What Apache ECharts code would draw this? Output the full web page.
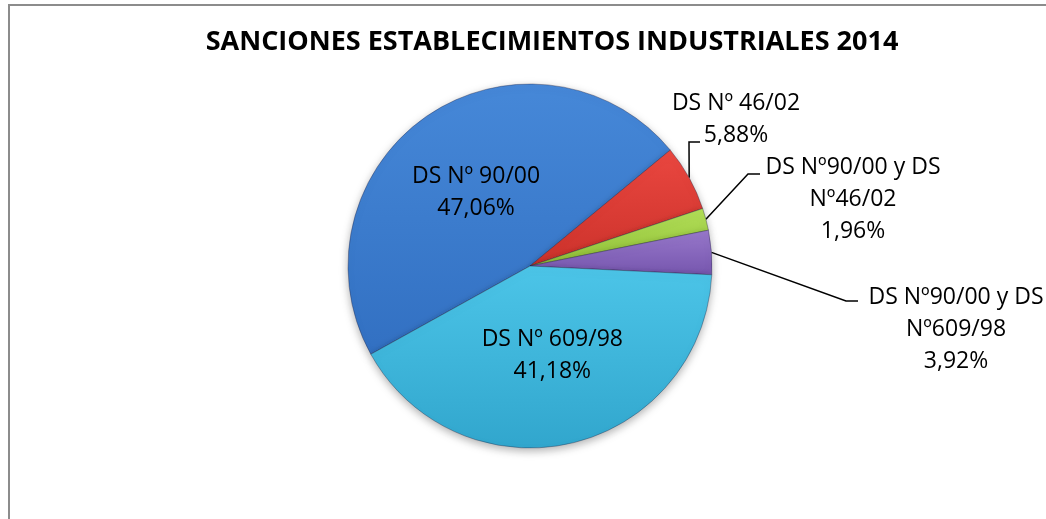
<!DOCTYPE html>
<html>
<head>
<meta charset="utf-8">
<script src="https://cdn.jsdelivr.net/npm/echarts@6/dist/echarts.min.js"></script>
<style>
  html, body { margin: 0; padding: 0; background: #fff; }
  #chart { width: 1046px; height: 519px; }
</style>
</head>
<body>
<div id="chart"></div>
<script>
var chartTitle = 'SANCIONES ESTABLECIMIENTOS INDUSTRIALES 2014';
var categories = ['DS Nº 90/00', 'DS Nº 46/02', 'DS Nº90/00 y DS\nNº46/02', 'DS Nº90/00 y DS\nNº609/98', 'DS Nº 609/98'];
var percentLabels = ['47,06%', '5,88%', '1,96%', '3,92%', '41,18%'];
var counts = [24, 3, 1, 2, 21];

// light / dark stops for each slice
var sliceColors = [
    ['#4688d8', '#3270c2'],
    ['#ea4740', '#cc322b'],
    ['#b2de58', '#92c238'],
    ['#9878cb', '#7656ae'],
    ['#4cc5e8', '#31a6cd']
];

// where the outside labels go, and the elbow of the leader line
var outsideLabels = {
    1: { x: 736, y: 87, elbow: [689, 142], end: [700, 142] },
    2: { x: 853, y: 151, elbow: [748, 174], end: [760, 174] },
    3: { x: 956, y: 281, elbow: [846, 301], end: [858, 301] }
};
var insideShift = { 0: [-1, 4], 4: [1, -2] };

var myChart = echarts.init(document.getElementById('chart'));

var seriesData = counts.map(function (v, i) {
    var inside = !outsideLabels[i];
    return {
        name: categories[i],
        value: v,
        itemStyle: {
            color: new echarts.graphic.LinearGradient(0, 0, 0, 1, [
                { offset: 0, color: sliceColors[i][0] },
                { offset: 1, color: sliceColors[i][1] }
            ])
        },
        label: {
            position: inside ? 'inside' : 'outside'
        },
        labelLine: { show: !inside }
    };
});

var option = {
    animation: false,
    backgroundColor: '#fff',
    title: {
        text: chartTitle,
        left: 547,
        top: 24,
        textAlign: 'center',
        textStyle: {
            fontFamily: 'Open Sans',
            fontWeight: 'bold',
            fontSize: 27,
            color: '#000'
        }
    },
    graphic: [{
        type: 'rect',
        shape: { x: 9, y: 5, width: 1100, height: 600 },
        style: { fill: 'none', stroke: '#8c8c8c', lineWidth: 2 },
        silent: true
    }],
    series: [{
        type: 'pie',
        center: [530, 266],
        radius: 182,
        startAngle: 209,
        clockwise: true,
        avoidLabelOverlap: false,
        data: seriesData,
        itemStyle: {
            borderColor: 'rgba(30,30,60,0.35)',
            borderWidth: 1,
            shadowBlur: 8,
            shadowOffsetY: 3,
            shadowColor: 'rgba(0,0,0,0.3)'
        },
        label: {
            show: true,
            fontFamily: 'Open Sans',
            fontSize: 23,
            lineHeight: 32,
            color: '#000',
            align: 'center',
            formatter: function (p) {
                return categories[p.dataIndex] + '\n' + percentLabels[p.dataIndex];
            }
        },
        labelLine: {
            lineStyle: { color: '#000', width: 1.5 }
        },
        labelLayout: function (p) {
            var o = outsideLabels[p.dataIndex];
            if (!o) {
                var s = insideShift[p.dataIndex] || [0, 0];
                return { dx: s[0], dy: s[1] };
            }
            var anchor = p.labelLinePoints ? p.labelLinePoints[0] : o.elbow;
            return {
                x: o.x,
                y: o.y,
                align: 'center',
                verticalAlign: 'top',
                labelLinePoints: [anchor, o.elbow, o.end]
            };
        }
    }]
};

myChart.setOption(option);
</script>
</body>
</html>
